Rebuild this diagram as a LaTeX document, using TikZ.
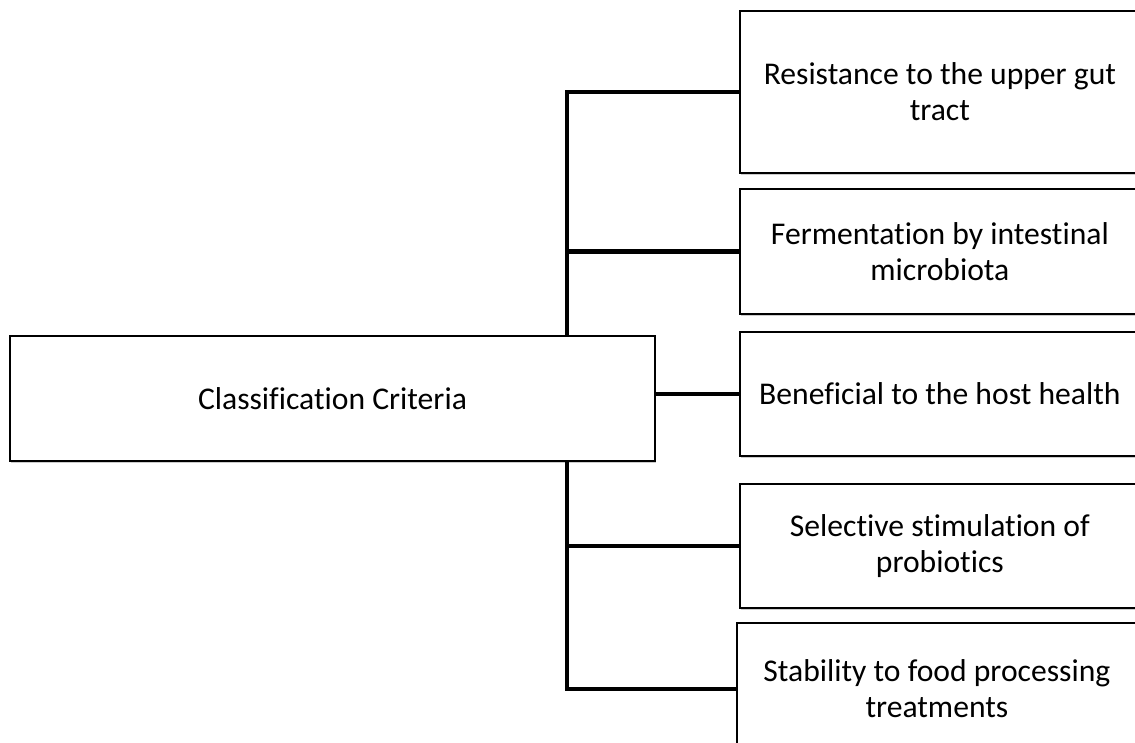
\documentclass[tikz,border=0pt]{standalone}
\usepackage{fontspec}
\setmainfont{Carlito}[Ligatures=NoCommon]
\usetikzlibrary{positioning, shadows}

\begin{document}
\begin{tikzpicture}[x=0.02cm, y=-0.02cm, node distance=2cm, on grid,
      every node/.style={font=\fontsize{18}{20.5}\selectfont},
      crit/.style={draw, line width=0.9pt, fill=white, align=center, inner sep=0pt,
        drop shadow={shadow xshift=0.7pt, shadow yshift=-0.9pt, fill=black!40}},
      link/.style={line width=2.6pt}]
      \useasboundingbox (0,0) rectangle (1135,743);
      \clip (0,0) rectangle (1135,743);
      \node[crit, minimum width=12.9cm, minimum height=2.5cm] (main) at (332.5,398.5) {Classification Criteria};
      \node[crit, minimum width=8cm, minimum height=2.48cm] (b3) [right=12.15cm of main, yshift=0.09cm] {Beneficial to the host health};
      \node[crit, minimum width=8cm, minimum height=2.5cm]  (b2) [above=2.85cm of b3] {Fermentation by intestinal\\microbiota};
      \node[crit, minimum width=8cm, minimum height=3.24cm] (b1) [above=3.19cm of b2] {Resistance to the upper gut\\tract};
      \node[crit, minimum width=8cm, minimum height=2.48cm] (b4) [below=3.04cm of b3] {Selective stimulation of\\probiotics};
      \node[crit, minimum width=8cm, minimum height=2.64cm] (b5) [below=2.86cm of b4, xshift=-0.06cm] {Stability to food processing\\treatments};
      \coordinate (split) at (567,398);
      \draw[link] (b1.west) -| (split |- main.north);
      \draw[link] (split |- main.south) |- (b5.west);
      \draw[link] (b2.west) -- (b2.west -| split);
      \draw[link] (b4.west) -- (b4.west -| split);
      \draw[link] (main.east |- b3.west) -- (b3.west);
    \end{tikzpicture}
\end{document}
